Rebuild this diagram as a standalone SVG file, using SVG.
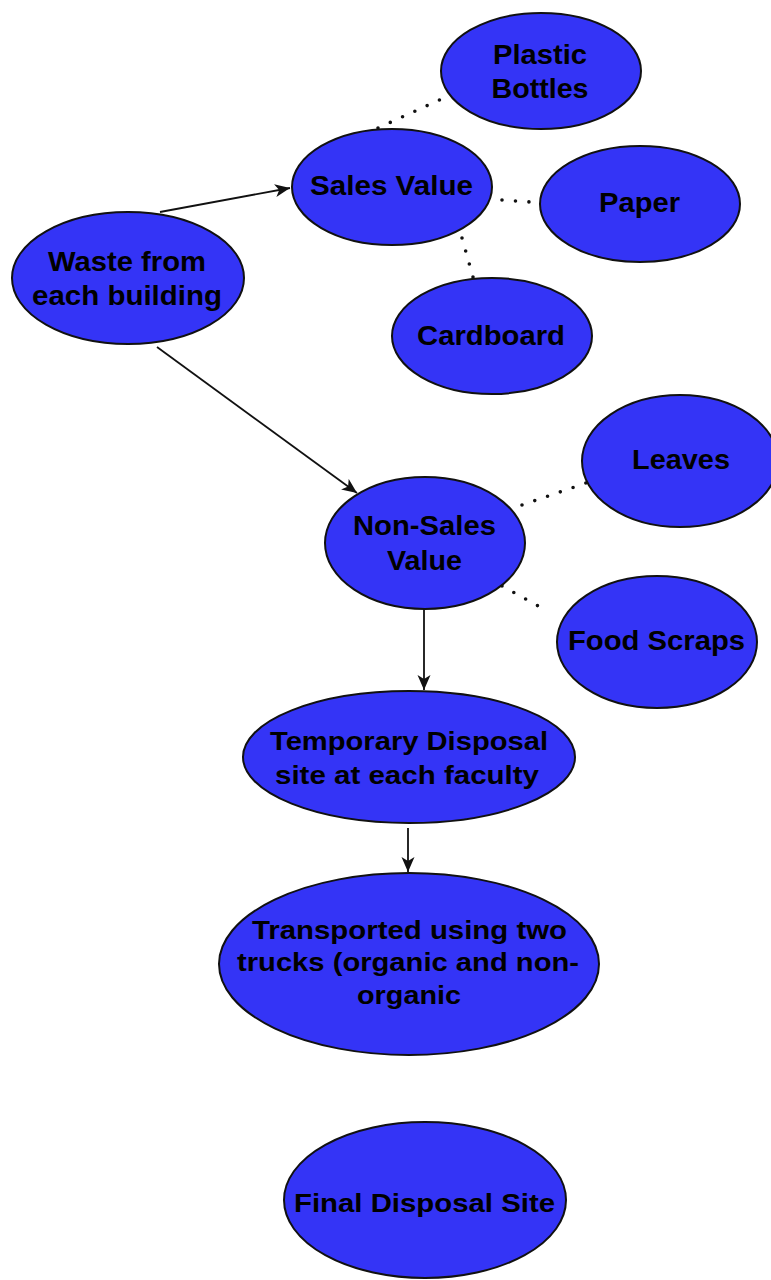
<svg xmlns="http://www.w3.org/2000/svg" width="771" height="1280" viewBox="0 0 771 1280">
<style>
.node ellipse{fill:#3434f6;stroke:#111;stroke-width:2}
.node text{font-family:"Liberation Sans",Arial,sans-serif;font-weight:bold;font-size:28px;fill:#000;text-anchor:middle}
.node text.s{font-size:26px}
.solid{stroke:#111;stroke-width:1.8;fill:none}
.dots{stroke:#111;stroke-width:3.6;stroke-linecap:round;stroke-dasharray:0 13.5;fill:none}
</style>
<defs>
<marker id="arr" markerUnits="userSpaceOnUse" markerWidth="16" markerHeight="14" refX="15" refY="7" orient="auto">
<path d="M0,0.5 L15,7 L0,13.5 L4,7 z" fill="#111"/>
</marker>
</defs>
<rect width="771" height="1280" fill="#fff"/>
<g id="connectors">
<line class="solid" x1="160" y1="212" x2="290" y2="188" marker-end="url(#arr)"/>
<line class="solid" x1="157" y1="347" x2="357" y2="493" marker-end="url(#arr)"/>
<line class="solid" x1="424" y1="609" x2="424" y2="690" marker-end="url(#arr)"/>
<line class="solid" x1="408" y1="828" x2="408" y2="872" marker-end="url(#arr)"/>
<line class="dots" x1="378" y1="128" x2="446" y2="97"/>
<line class="dots" x1="502" y1="200" x2="530" y2="202"/>
<line class="dots" x1="462" y1="238" x2="473" y2="277"/>
<line class="dots" x1="522" y1="505" x2="586" y2="483"/>
<line class="dots" x1="502" y1="586" x2="549" y2="612"/>
</g>
<g id="plastic" class="node"><ellipse cx="541" cy="71" rx="100" ry="58"/><text x="540" y="64" textLength="94" lengthAdjust="spacingAndGlyphs">Plastic</text><text x="540" y="98" textLength="97" lengthAdjust="spacingAndGlyphs">Bottles</text></g>
<g id="sales" class="node"><ellipse cx="392" cy="187" rx="100" ry="58"/><text x="391.5" y="195" textLength="163" lengthAdjust="spacingAndGlyphs">Sales Value</text></g>
<g id="paper" class="node"><ellipse cx="640" cy="204" rx="100" ry="58"/><text x="639.5" y="212" textLength="81" lengthAdjust="spacingAndGlyphs">Paper</text></g>
<g id="waste" class="node"><ellipse cx="128" cy="278" rx="116" ry="66"/><text x="127" y="271" textLength="158" lengthAdjust="spacingAndGlyphs">Waste from</text><text x="127" y="305" textLength="190" lengthAdjust="spacingAndGlyphs">each building</text></g>
<g id="cardboard" class="node"><ellipse cx="492" cy="336" rx="100" ry="58"/><text x="491" y="345" textLength="148" lengthAdjust="spacingAndGlyphs">Cardboard</text></g>
<g id="leaves" class="node"><ellipse cx="680" cy="461" rx="98" ry="66"/><text x="681" y="469" textLength="98" lengthAdjust="spacingAndGlyphs">Leaves</text></g>
<g id="nonsales" class="node"><ellipse cx="425" cy="543" rx="100" ry="66"/><text x="424.5" y="535" textLength="143" lengthAdjust="spacingAndGlyphs">Non-Sales</text><text x="424.5" y="570" textLength="75" lengthAdjust="spacingAndGlyphs">Value</text></g>
<g id="food" class="node"><ellipse cx="657" cy="642" rx="100" ry="66"/><text x="656.5" y="650" textLength="177" lengthAdjust="spacingAndGlyphs">Food Scraps</text></g>
<g id="temporary" class="node"><ellipse cx="409" cy="757" rx="166" ry="66"/><text class="s" x="409" y="750" textLength="278" lengthAdjust="spacingAndGlyphs">Temporary Disposal</text><text class="s" x="407" y="784" textLength="264" lengthAdjust="spacingAndGlyphs">site at each faculty</text></g>
<g id="transported" class="node"><ellipse cx="409" cy="964" rx="190" ry="91"/><text class="s" x="409.5" y="939" textLength="315" lengthAdjust="spacingAndGlyphs">Transported using two</text><text class="s" x="408" y="971" textLength="342" lengthAdjust="spacingAndGlyphs">trucks (organic and non-</text><text class="s" x="409" y="1004" textLength="104" lengthAdjust="spacingAndGlyphs">organic</text></g>
<g id="final" class="node"><ellipse cx="425" cy="1200" rx="141" ry="78"/><text class="s" x="424.5" y="1212" textLength="261" lengthAdjust="spacingAndGlyphs">Final Disposal Site</text></g>
</svg>
